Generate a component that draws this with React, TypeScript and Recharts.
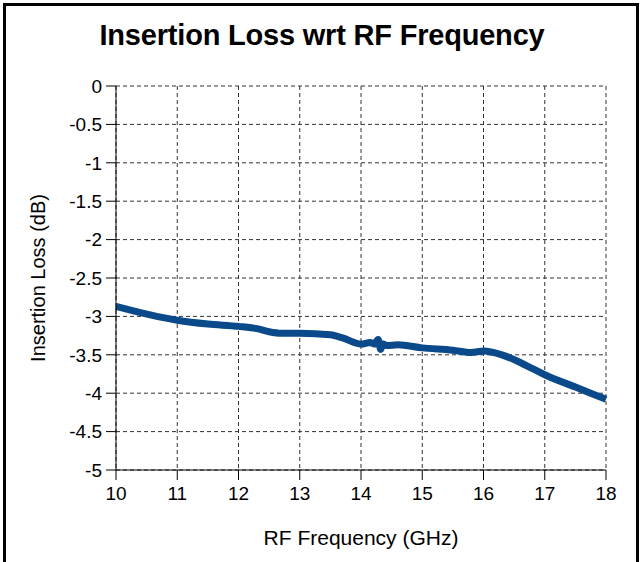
import { LineChart, Line, XAxis, YAxis, CartesianGrid } from 'recharts';

const freqs = [10, 10.3, 10.56, 11, 11.5, 12, 12.3, 12.5, 12.7, 13, 13.5, 13.7, 14, 14.15, 14.22, 14.28, 14.32, 14.36, 14.42, 14.6, 15, 15.5, 15.8, 16, 16.3, 16.6, 16.8, 17, 17.5, 18];
const loss = [-2.87, -2.93, -2.98, -3.05, -3.1, -3.13, -3.16, -3.2, -3.22, -3.22, -3.24, -3.28, -3.36, -3.34, -3.36, -3.3, -3.43, -3.36, -3.38, -3.37, -3.41, -3.44, -3.47, -3.45, -3.5, -3.6, -3.68, -3.76, -3.92, -4.08];
const xTicks = [10, 11, 12, 13, 14, 15, 16, 17, 18];
const yTicks = [0, -0.5, -1, -1.5, -2, -2.5, -3, -3.5, -4, -4.5, -5];

const data = freqs.map((f, i) => ({ freq: f, loss: loss[i] }));

const font = '"Liberation Sans", Arial, sans-serif';

export default function App() {
  return (
    <div style={{ position: 'absolute', left: 0, top: 0, width: 640, height: 562, background: '#fff', overflow: 'hidden', fontFamily: font }}>
      <div style={{ position: 'absolute', left: 3, top: 3, width: 630, height: 600, border: '3px solid #000' }} />
      <div style={{ position: 'absolute', left: 0, top: 19, width: 644, textAlign: 'center', fontSize: 29, fontWeight: 'bold', color: '#000', letterSpacing: -0.2 }}>
        Insertion Loss wrt RF Frequency
      </div>
      <div style={{ position: 'absolute', left: 0, top: 0 }}>
        <LineChart width={640} height={562} data={data} margin={{ top: 86, right: 34, bottom: 17, left: 60 }}>
          <CartesianGrid stroke="#333" strokeDasharray="4 3" />
          <XAxis
            dataKey="freq"
            type="number"
            domain={[10, 18]}
            ticks={xTicks}
            interval={0}
            height={75}
            stroke="#000"
            tickLine={{ stroke: '#000' }}
            tickSize={10}
            tick={{ fill: '#000', fontSize: 19, fontFamily: font, dy: 5 }}
            label={{ value: 'RF Frequency (GHz)', position: 'insideBottom', offset: 0, fill: '#000', fontSize: 21, fontFamily: font }}
          />
          <YAxis
            type="number"
            domain={[-5, 0]}
            ticks={yTicks}
            interval={0}
            width={56}
            stroke="#000"
            tickSize={10}
            tick={{ fill: '#000', fontSize: 19, fontFamily: font, dx: -2 }}
            label={{ value: 'Insertion Loss (dB)', angle: -90, position: 'insideLeft', offset: -22, fill: '#000', fontSize: 20, fontFamily: font, style: { textAnchor: 'middle' } }}
          />
          <Line
            dataKey="loss"
            type="monotone"
            stroke="#0a4a8a"
            strokeWidth={7}
            dot={false}
            isAnimationActive={false}
          />
        </LineChart>
      </div>
    </div>
  );
}
